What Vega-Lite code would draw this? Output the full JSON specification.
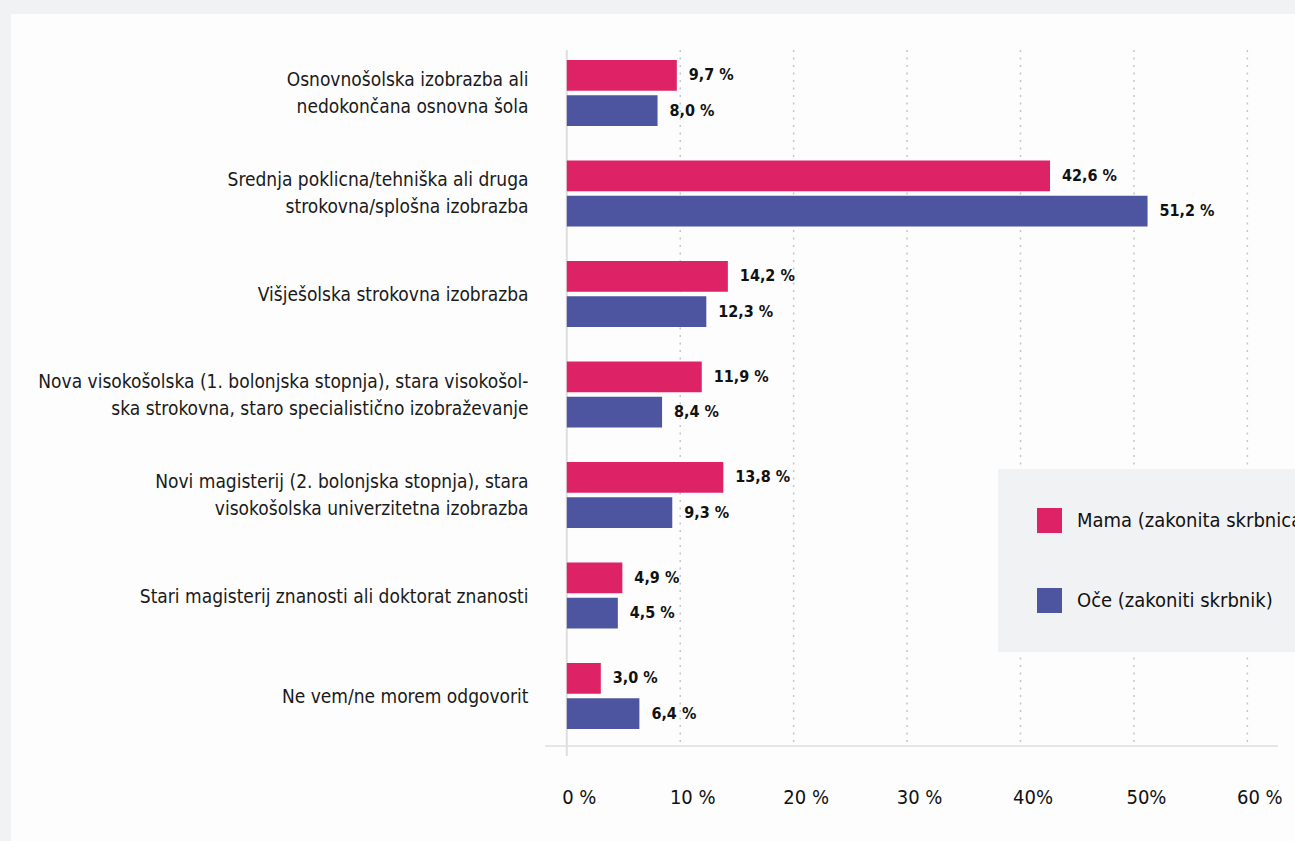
{
  "$schema": "https://vega.github.io/schema/vega-lite/v6.json",
  "width": 1284,
  "height": 827,
  "autosize": {"type": "none"},
  "padding": {"left": 11, "top": 14, "right": 0, "bottom": 0},
  "background": "#f1f2f4",
  "config": {
    "view": {"fill": "#fdfdfd", "stroke": null},
    "font": "DejaVu Sans Condensed"
  },
  "resolve": {"scale": {"y": "independent"}},
  "layer": [
    {
      "data": {"values": [{"g": 10}, {"g": 20}, {"g": 30}, {"g": 40}, {"g": 50}, {"g": 60}]},
      "mark": {"type": "rule", "strokeDash": [2, 5.5], "color": "#c6c6c6", "strokeWidth": 1.5},
      "encoding": {
        "x": {"field": "g", "type": "quantitative"},
        "y": {"datum": 0.0435, "type": "quantitative", "scale": {"domain": [0, 1], "reverse": true}, "axis": null},
        "y2": {"datum": 0.8851}
      }
    },
    {
      "data": {"values": [{}]},
      "mark": {"type": "rule", "color": "#dedede", "strokeWidth": 2},
      "encoding": {
        "x": {"datum": 0, "type": "quantitative"},
        "y": {"datum": 0.0435, "type": "quantitative", "scale": {"domain": [0, 1], "reverse": true}, "axis": null},
        "y2": {"datum": 0.8972}
      }
    },
    {
      "data": {"values": [{}]},
      "mark": {"type": "rule", "color": "#dedede", "strokeWidth": 1.5},
      "encoding": {
        "x": {"datum": -1.9, "type": "quantitative"},
        "x2": {"datum": 62.7},
        "y": {"datum": 0.8851, "type": "quantitative", "scale": {"domain": [0, 1], "reverse": true}, "axis": null}
      }
    },
    {
      "data": {
        "values": [
          {"cat": "Osnovnošolska izobrazba ali|nedokončana osnovna šola", "who": "Mama (zakonita skrbnica)", "v": 9.7},
          {"cat": "Osnovnošolska izobrazba ali|nedokončana osnovna šola", "who": "Oče (zakoniti skrbnik)", "v": 8.0},
          {"cat": "Srednja poklicna/tehniška ali druga|strokovna/splošna izobrazba", "who": "Mama (zakonita skrbnica)", "v": 42.6},
          {"cat": "Srednja poklicna/tehniška ali druga|strokovna/splošna izobrazba", "who": "Oče (zakoniti skrbnik)", "v": 51.2},
          {"cat": "Višješolska strokovna izobrazba", "who": "Mama (zakonita skrbnica)", "v": 14.2},
          {"cat": "Višješolska strokovna izobrazba", "who": "Oče (zakoniti skrbnik)", "v": 12.3},
          {"cat": "Nova visokošolska  (1. bolonjska stopnja), stara visokošol-|ska strokovna, staro specialistično izobraževanje", "who": "Mama (zakonita skrbnica)", "v": 11.9},
          {"cat": "Nova visokošolska  (1. bolonjska stopnja), stara visokošol-|ska strokovna, staro specialistično izobraževanje", "who": "Oče (zakoniti skrbnik)", "v": 8.4},
          {"cat": "Novi magisterij (2. bolonjska stopnja), stara|visokošolska univerzitetna  izobrazba", "who": "Mama (zakonita skrbnica)", "v": 13.8},
          {"cat": "Novi magisterij (2. bolonjska stopnja), stara|visokošolska univerzitetna  izobrazba", "who": "Oče (zakoniti skrbnik)", "v": 9.3},
          {"cat": "Stari magisterij znanosti ali doktorat znanosti", "who": "Mama (zakonita skrbnica)", "v": 4.9},
          {"cat": "Stari magisterij znanosti ali doktorat znanosti", "who": "Oče (zakoniti skrbnik)", "v": 4.5},
          {"cat": "Ne vem/ne morem odgovorit", "who": "Mama (zakonita skrbnica)", "v": 3.0},
          {"cat": "Ne vem/ne morem odgovorit", "who": "Oče (zakoniti skrbnik)", "v": 6.4}
        ]
      },
      "transform": [
        {"calculate": "replace(format(datum.v, '.1f'), '.', ',') + ' %'", "as": "lbl"}
      ],
      "encoding": {
        "y": {
          "field": "cat",
          "type": "nominal",
          "sort": null,
          "scale": {"range": [46, 715], "paddingInner": 0.3433, "paddingOuter": 0},
          "axis": {
            "title": null,
            "orient": "left",
            "offset": -555.7,
            "domain": false,
            "ticks": false,
            "grid": false,
            "labelPadding": 38.7,
            "labelFontSize": 19,
            "labelColor": "#1a1a1a",
            "labelLineHeight": 27,
            "labelLimit": 700,
            "labelOffset": {"condition": {"test": "indexof(datum.value, '|') >= 0", "value": -13}, "value": 1},
            "labelExpr": "split(datum.label, '|')"
          }
        },
        "yOffset": {
          "field": "who",
          "type": "nominal",
          "scale": {"domain": ["Mama (zakonita skrbnica)", "Oče (zakoniti skrbnik)"], "paddingInner": 0.1223, "paddingOuter": 0}
        },
        "x": {
          "field": "v",
          "type": "quantitative",
          "scale": {"domain": [-49, 64.2], "nice": false, "zero": false},
          "axis": {
            "title": null,
            "orient": "bottom",
            "values": [0, 10, 20, 30, 40, 50, 60],
            "offset": -44,
            "domain": false,
            "ticks": false,
            "grid": false,
            "labelPadding": 0,
            "labelBaseline": "middle",
            "labelAlign": "center",
            "labelOffset": 12,
            "labelFlush": false,
            "labelBound": false,
            "labelOverlap": false,
            "labelFontSize": 20,
            "labelColor": "#111111",
            "labelExpr": "(datum.value == 40 || datum.value == 50) ? datum.value + '%' : datum.value + ' %'"
          }
        }
      },
      "layer": [
        {
          "mark": {"type": "bar"},
          "encoding": {
            "color": {
              "field": "who",
              "type": "nominal",
              "scale": {"domain": ["Mama (zakonita skrbnica)", "Oče (zakoniti skrbnik)"], "range": ["#dd2366", "#4e55a0"]},
              "legend": {
                "title": null,
                "orient": "none",
                "legendX": 987,
                "legendY": 455,
                "direction": "vertical",
                "fillColor": "#f1f2f4",
                "padding": 39,
                "rowPadding": 55,
                "symbolType": "square",
                "symbolSize": 625,
                "symbolStrokeWidth": 0,
                "symbolOpacity": 1,
                "labelFontSize": 20,
                "labelOffset": 15,
                "labelColor": "#111111",
                "labelLimit": 400
              }
            }
          }
        },
        {
          "mark": {"type": "text", "align": "left", "baseline": "middle", "dx": 12, "fontWeight": "bold", "fontSize": 16, "color": "#111111"},
          "encoding": {
            "text": {"field": "lbl", "type": "nominal"}
          }
        }
      ]
    }
  ]
}
